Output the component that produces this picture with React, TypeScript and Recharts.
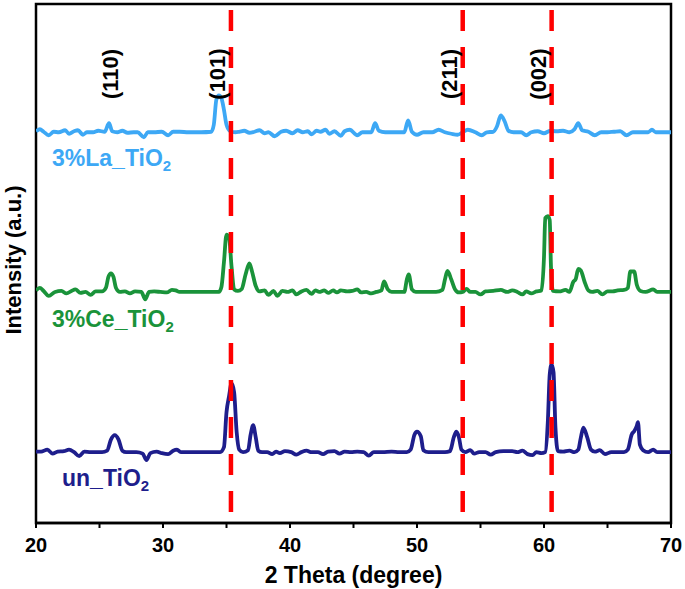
import { LineChart, Line, XAxis, YAxis, ReferenceLine, ReferenceArea } from 'recharts';

// 2-theta / relative intensity pairs, baseline = 0
const laX = [20.0, 20.3, 20.6, 21.0, 21.4, 21.8, 22.3, 22.6, 23.0, 23.3, 23.7, 24.0, 24.5, 24.9, 25.4, 25.75, 26.0, 26.4, 26.8, 27.2, 27.7, 28.0, 28.5, 28.8, 29.3, 29.9, 30.4, 30.8, 31.3, 32.0, 33.0, 33.8, 34.0, 34.2, 34.4, 34.6, 34.8, 35.0, 35.3, 35.7, 36.0, 36.4, 36.8, 37.2, 37.6, 38.0, 38.3, 38.8, 39.3, 39.7, 40.2, 40.6, 41.0, 41.4, 41.7, 42.1, 42.4, 42.8, 43.1, 43.5, 44.0, 44.3, 44.7, 45.3, 45.7, 46.4, 46.7, 47.0, 47.5, 48.5, 49.0, 49.3, 49.6, 50.0, 50.5, 51.2, 51.7, 52.2, 52.7, 53.2, 53.6, 54.0, 54.6, 55.1, 55.5, 56.0, 56.3, 56.6, 56.9, 57.2, 57.6, 58.2, 58.6, 59.0, 59.5, 60.0, 60.5, 61.0, 61.5, 62.0, 62.4, 62.7, 63.0, 63.5, 64.0, 64.5, 65.0, 65.5, 66.0, 66.5, 67.0, 67.5, 68.2, 68.5, 68.8, 69.5, 70.0];
const laY = [0.2, 0.6, 0.1, -0.6, 0.1, 0, 0.4, -0.3, 0.2, 0.4, -0.5, 0, 0, 0.3, 0.1, 1.8, 0.2, 0, 0.3, -0.1, 0, 0, -1.0, 0, 0, 0.1, -0.6, 0.1, 0.1, 0, 0, 0.1, 1.5, 6.5, 7.4, 6.8, 4.5, 1.5, 0.2, 0, 0.1, 0.3, -0.1, 0.1, 0.4, -0.2, 0, -0.8, 0.1, 0.3, -0.2, 0.4, 0, 0.2, -0.4, 0.3, 0.1, 0.5, -0.3, 0.2, -0.7, 0.2, 0.5, -0.6, 0, 0, 1.8, 0.3, 0, 0, 0, 2.4, 0.1, -0.5, 0, 0, 0.5, 0, -0.3, -0.5, 0, 0.5, 0, -0.6, 0, 0.1, 1.2, 3.4, 2.2, 0.3, 0, 0, -0.6, 0, 0.2, -0.2, 0.3, 0.2, 0.3, 0, 0.6, 1.8, 0.4, 0.1, -0.6, 0, 0, 0.1, 0.2, -0.6, 0, 0, 0, 0.5, 0, 0, 0];

const ceX = [20.0, 20.3, 20.6, 21.0, 21.5, 22.0, 22.4, 22.8, 23.1, 23.5, 23.9, 24.3, 24.7, 25.2, 25.5, 25.7, 25.9, 26.1, 26.3, 26.6, 27.0, 27.4, 27.8, 28.3, 28.6, 28.9, 29.3, 29.8, 30.3, 30.7, 31.0, 31.3, 32.5, 33.8, 34.4, 34.6, 34.8, 35.0, 35.2, 35.4, 35.6, 35.9, 36.2, 36.5, 36.8, 37.0, 37.3, 37.6, 38.0, 38.3, 38.7, 39.0, 39.4, 39.8, 40.2, 40.5, 40.9, 41.3, 41.7, 42.0, 42.3, 42.7, 43.0, 43.4, 43.7, 44.0, 44.5, 44.9, 45.3, 45.6, 46.0, 46.4, 46.8, 47.2, 47.4, 47.7, 48.0, 48.5, 49.0, 49.2, 49.35, 49.6, 49.9, 50.5, 51.5, 52.0, 52.2, 52.4, 52.7, 53.0, 53.3, 53.6, 53.9, 54.2, 54.6, 55.0, 55.4, 56.0, 56.6, 57.1, 57.5, 57.9, 58.3, 58.6, 59.0, 59.4, 59.8, 60.0, 60.1, 60.3, 60.45, 60.55, 60.7, 61.2, 61.7, 62.0, 62.3, 62.5, 62.7, 62.9, 63.2, 63.5, 63.8, 64.2, 64.6, 65.0, 65.4, 65.8, 66.3, 66.6, 66.8, 67.1, 67.3, 67.6, 68.0, 68.6, 68.9, 69.5, 70.0];
const ceY = [0.3, 0.8, 0.2, -0.8, 0, 0.2, -0.3, 0.2, 0.5, -0.2, 0, -0.6, 0.1, 0.1, 0.8, 3.0, 3.7, 3.0, 0.8, 0, 0.1, -0.3, 0.1, 0, -1.5, 0, 0.1, 0, -0.1, 0.4, 0.3, 0, 0, 0, 0, 1.0, 6.0, 11.5, 11.0, 5.0, 0.5, 0.2, 0.6, 3.5, 5.7, 4.2, 1.2, 0.1, 0.3, -0.6, 0.2, -0.8, 0.2, 0, 0.3, -0.5, 0.1, 0.4, -0.4, 0.3, 0, 0.3, -0.2, 0.3, -0.1, 0.3, 0.1, 0.2, 0.5, -0.1, 0, -0.3, 0, 0.3, 2.1, 0.5, 0, 0, 0, 2.5, 3.5, 0.5, 0, 0, 0, 0.4, 2.5, 4.2, 2.5, 0.5, -0.1, 0, 0.6, 0, 0, -0.5, 0.1, 0.2, 0.4, 0, 0.3, 0, -0.5, 0.1, -0.3, 0.1, 0.3, 7.0, 14.8, 15.2, 14.4, 5.0, 0.2, 0.1, 0.4, 0, 2.0, 2.6, 4.6, 4.3, 2.0, 0.3, 0, 0.2, -0.5, 0.1, 0.1, 0.3, 0.4, 0.8, 4.1, 4.1, 1.5, 0.2, 0, 0.5, 0, 0, 0];

const unX = [20.0, 20.4, 20.9, 21.3, 21.7, 22.2, 22.6, 23.0, 23.4, 23.8, 24.3, 24.7, 25.2, 25.6, 25.9, 26.2, 26.5, 26.8, 27.1, 27.5, 27.9, 28.4, 28.7, 29.0, 29.5, 29.9, 30.4, 30.8, 31.1, 31.4, 32.5, 33.8, 34.5, 34.8, 35.0, 35.2, 35.4, 35.6, 35.8, 36.0, 36.3, 36.7, 36.9, 37.1, 37.3, 37.5, 37.8, 38.2, 38.6, 38.9, 39.2, 39.6, 40.1, 40.5, 40.9, 41.3, 41.7, 42.2, 42.6, 43.0, 43.5, 43.9, 44.3, 44.8, 45.3, 45.8, 46.2, 46.6, 47.3, 48.0, 48.6, 49.2, 49.5, 49.8, 50.0, 50.3, 50.5, 50.9, 51.5, 52.2, 52.6, 52.9, 53.1, 53.3, 53.5, 53.8, 54.2, 54.5, 54.9, 55.4, 55.8, 56.2, 56.8, 57.5, 57.9, 58.3, 58.7, 59.1, 59.4, 59.8, 60.1, 60.3, 60.45, 60.6, 60.75, 60.9, 61.1, 61.5, 62.0, 62.4, 62.7, 62.9, 63.1, 63.4, 63.7, 64.0, 64.4, 64.8, 65.3, 65.8, 66.3, 66.6, 66.9, 67.1, 67.3, 67.4, 67.55, 67.8, 68.2, 68.6, 68.9, 69.5, 70.0];
const unY = [0.1, 0.1, 0.5, -0.3, 0.1, 0.2, 0.5, 0, -0.8, 0.1, 0, 0, 0, 0.3, 2.5, 3.4, 2.5, 0.3, 0, 0, 0, -0.3, -1.6, -0.2, 0.1, -0.2, -0.4, 0.3, 0.5, 0, 0, 0, 0, 1.0, 8.0, 11.2, 13.8, 12.0, 4.0, 0.5, 0, 0.4, 3.5, 5.4, 3.0, 0.3, 0, 0, -0.4, 0.1, -0.2, 0.2, 0, -0.5, 0, 0.3, 0, 0, -0.4, 0.1, 0.2, -0.3, 0.1, 0, 0.1, 0, -0.7, 0, 0, 0.1, 0, 0, 0.5, 3.5, 4.1, 3.2, 0.4, 0, 0, 0, 0.2, 3.0, 4.1, 3.0, 0.5, 0, 0.4, -0.3, 0, 0, -0.5, 0, 0.2, 0.2, 0, 0.3, -0.4, -0.6, 0, -0.2, 0, 6.0, 15.5, 17.6, 16.0, 5.0, 0.2, 0.1, 0.3, 0, 0.5, 2.9, 4.9, 3.0, 0.5, 0.1, 0.4, -0.4, 0, 0, 0, 0.5, 3.5, 4.2, 5.2, 6.0, 1.5, 0.4, 0, 0.5, 0, 0, 0];

// vertical stacking offsets of the three patterns
const offsets = { la: 78.3, ce: 46.3, un: 14.2 };

const peakLines = [35.35, 53.6, 60.6];
const hklLabels = ['(110)', '(101)', '(211)', '(002)'];
const hklPos = [25.9, 34.3, 52.6, 59.6];
const xTicks = [20, 25, 30, 35, 40, 45, 50, 55, 60, 65, 70];

const build = (xs: number[], ys: number[], off: number) => xs.map((x, i) => ({ x, y: ys[i] + off }));
const laData = build(laX, laY, offsets.la);
const ceData = build(ceX, ceY, offsets.ce);
const unData = build(unX, unY, offsets.un);

const W = 685;
const H = 589;
const M = { top: 4, right: 14, bottom: 0, left: 36 };
const AXIS_H = 66;
const plotW = W - M.left - M.right;
const xPix = (v: number) => M.left + ((v - 20) / 50) * plotW;

const font = '"Liberation Sans", Arial, sans-serif';

const XTick = (props: any) => {
  const { x, y, payload } = props;
  if (payload.value % 10 !== 0) return null;
  return (
    <text x={x} y={y + 22} textAnchor="middle" fontSize={20} fontWeight="bold" fill="#000" fontFamily={font}>
      {payload.value}
    </text>
  );
};

const SeriesLabel = ({ left, top, color, name }: { left: number; top: number; color: string; name: string }) => (
  <div style={{ position: 'absolute', left, top, color, fontSize: 23, fontWeight: 'bold', fontFamily: font, whiteSpace: 'nowrap', lineHeight: '27px' }}>
    {name}_TiO<sub style={{ fontSize: 15, verticalAlign: 'baseline', position: 'relative', top: 5 }}>2</sub>
  </div>
);

export default function App() {
  return (
    <div style={{ position: 'absolute', left: 0, top: 0, width: W, height: H, background: '#fff' }}>
      <LineChart width={W} height={H} margin={M}>
        <XAxis
          type="number"
          dataKey="x"
          domain={[20, 70]}
          ticks={xTicks}
          allowDataOverflow
          height={AXIS_H}
          axisLine={{ stroke: '#000', strokeWidth: 2.5 }}
          tickLine={{ stroke: '#000', strokeWidth: 2 }}
          tickSize={5}
          tick={<XTick />}
        />
        <YAxis type="number" domain={[0, 104]} hide width={0} />
        <ReferenceArea x1={20} x2={70} y1={0} y2={104} fill="none" stroke="#000" strokeWidth={2.5} />
        <Line data={laData} dataKey="y" type="monotone" stroke="#3da8f5" strokeWidth={3.8} dot={false} isAnimationActive={false} />
        <Line data={ceData} dataKey="y" type="monotone" stroke="#1a933a" strokeWidth={3.8} dot={false} isAnimationActive={false} />
        <Line data={unData} dataKey="y" type="monotone" stroke="#1e1e8c" strokeWidth={3.8} dot={false} isAnimationActive={false} />
        {peakLines.map((p) => (
          <ReferenceLine key={p} x={p} stroke="#ff0000" strokeWidth={4.5} strokeDasharray="21 16" strokeDashoffset={26} />
        ))}
      </LineChart>

      {hklLabels.map((t, i) => (
        <div
          key={t}
          style={{
            position: 'absolute', left: xPix(hklPos[i]) - 40, top: 61, width: 80, textAlign: 'center',
            transform: 'rotate(-90deg)', fontSize: 22, fontWeight: 'bold', fontFamily: font, lineHeight: '26px',
          }}
        >
          {t}
        </div>
      ))}

      <SeriesLabel left={52} top={145} color="#3da8f5" name="3%La" />
      <SeriesLabel left={52} top={306} color="#1a933a" name="3%Ce" />
      <SeriesLabel left={62} top={465} color="#1e1e8c" name="un" />

      <div style={{ position: 'absolute', left: 14 - 100, top: 260 - 13, width: 200, textAlign: 'center', transform: 'rotate(-90deg)', fontSize: 22, fontWeight: 'bold', fontFamily: font, lineHeight: '26px' }}>
        Intensity (a.u.)
      </div>
      <div style={{ position: 'absolute', left: M.left, top: 562, width: plotW, textAlign: 'center', fontSize: 23, fontWeight: 'bold', fontFamily: font }}>
        2 Theta (degree)
      </div>
    </div>
  );
}
